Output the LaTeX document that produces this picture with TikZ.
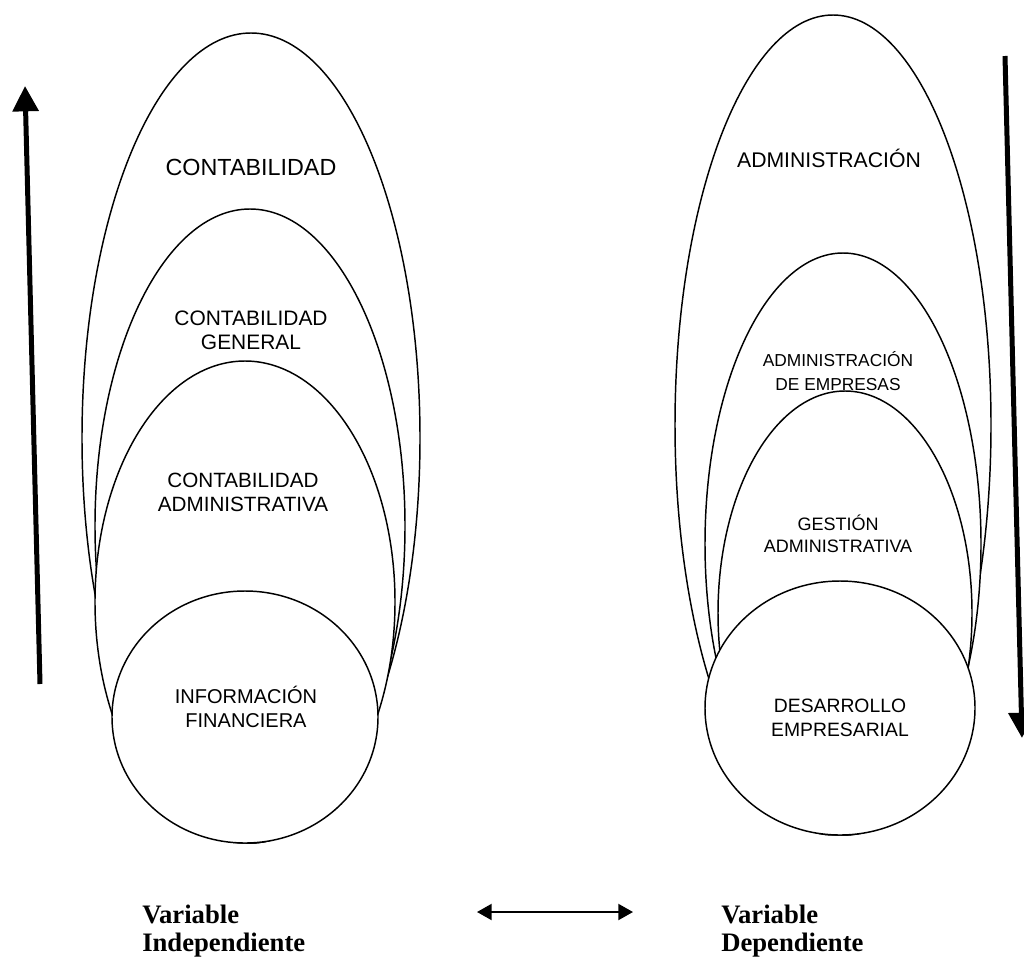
\documentclass[tikz,border=0pt]{standalone}
\usepackage{fontspec}
\setmainfont{Liberation Serif}
\setsansfont{Liberation Sans}
\usetikzlibrary{arrows.meta,positioning}
\tikzset{>=Stealth}
\tikzset{
  capa/.style={draw=black, line width=1.1pt, fill=white},
  rotulo/.style={font=\sffamily\fontsize{#1}{18}\selectfont, align=center, inner sep=0pt},
  nombreVar/.style={font=\rmfamily\bfseries\fontsize{20}{21}\selectfont, align=left, inner sep=0pt, anchor=north west},
  flecha/.style={line width=3.75pt, -{Triangle[length=19pt,width=19pt]}}
}

\begin{document}
\begin{tikzpicture}[x=0.75pt, y=-0.75pt] % 1 unidad = 1 px
\useasboundingbox (0,0) rectangle (1024,967);

% Capas de la variable independiente (de fuera hacia dentro, todas apoyadas abajo)
\foreach \cx/\cy/\rx/\ry in {251/438/169/405, 250/526/155/317, 245/602/150/241, 245/717/133/126}
  {\draw[capa] (\cx,\cy) ellipse[x radius=\rx, y radius=\ry];}

% Capas de la variable dependiente
\foreach \cx/\cy/\rx/\ry in {833/425/158/410, 843/544/138/291, 845/613/127/222, 840/708/135/127}
  {\draw[capa] (\cx,\cy) ellipse[x radius=\rx, y radius=\ry];}

% Rotulos
\node[rotulo=17.5] (conta)    at (251,167) {CONTABILIDAD};
\node[rotulo=15.7] (contaGen) at (251,330) {CONTABILIDAD\\GENERAL};
\node[rotulo=15.5] (contaAdm) at (243,492) {CONTABILIDAD\\ADMINISTRATIVA};
\node[rotulo=15]   (infoFin)  at (246,707) {INFORMACIÓN\\FINANCIERA};

\node[rotulo=15.9] (admin)    at (829,158) {ADMINISTRACIÓN};
\node[rotulo=13]   (adminEmp) at (838,371) {ADMINISTRACIÓN\\DE EMPRESAS};
\node[rotulo=13.5, font=\sffamily\fontsize{13.5}{16.5}\selectfont] (gestion) at (838,534) {GESTIÓN\\ADMINISTRATIVA};
\node[rotulo=14.5] (desEmp)   at (840,718) {DESARROLLO\\EMPRESARIAL};

% Flechas laterales
\coordinate (subeIni) at (40,684);
\coordinate (subeFin) at (25,86);
\coordinate (bajaIni) at (1005,56);
\coordinate (bajaFin) at (1022,738);
\draw[flecha] (subeIni) -- (subeFin);
\draw[flecha] (bajaIni) -- (bajaFin);

% Variables
\node[nombreVar] (varInd) at (142,905) {Variable\\Independiente};
\node[nombreVar] (varDep) at (721,905) {Variable\\Dependiente};

\coordinate (relIzq) at (477,912);
\coordinate (relDer) at (633,912);
\draw[line width=1.5pt, {Triangle[length=11pt,width=12pt]}-{Triangle[length=11pt,width=12pt]}] (relIzq) -- (relDer);

\end{tikzpicture}
\end{document}
